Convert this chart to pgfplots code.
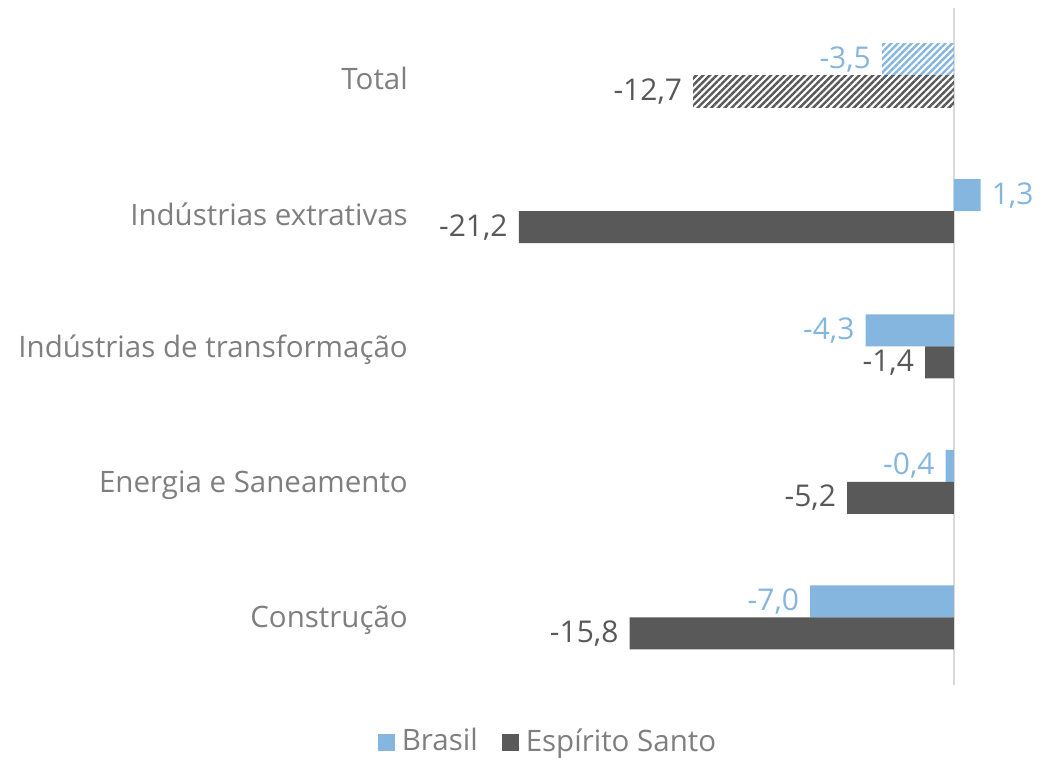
\documentclass[border=0pt]{standalone}
\usepackage{pgfplots}
\pgfplotsset{compat=1.18}
\usetikzlibrary{patterns.meta}
\usepackage{fontspec}
\setmainfont{Open Sans}
\definecolor{brasil}{RGB}{133,182,224}
\definecolor{esanto}{RGB}{89,89,89}
\definecolor{txtgray}{RGB}{127,127,127}
\definecolor{zeroline}{RGB}{217,217,217}

\begin{document}
\fontsize{29.5bp}{35bp}\selectfont
\begin{tikzpicture}[x=1bp,y=1bp]
\path[use as bounding box] (-410,-73) rectangle (631,685);
\begin{axis}[
    at={(0,0)}, anchor=south west,
    scale only axis,
    width=626bp, height=677bp,
    xbar, bar width=32bp,
    xmin=-26.5, xmax=4,
    ymin=-0.5, ymax=4.5,
    axis line style={draw=none},
    xtick=\empty,
    ytick={0,1,2,3,4},
    yticklabels={Construção, Energia e Saneamento, Indústrias de transformação, Indústrias extrativas, Total},
    major tick length=0pt,
    yticklabel style={anchor=east, inner sep=0pt, xshift=-2bp, yshift=-3bp, text=txtgray, font=\fontsize{29.5bp}{35bp}\selectfont},
    clip=false,
    nodes near coords,
    nodes near coords align={horizontal},
    /pgf/number format/.cd, fixed, fixed zerofill, precision=1, use comma, assume math mode=true,
    /pgfplots/.cd,
    every node near coord/.append style={font=\fontsize{30bp}{35bp}\selectfont, inner sep=11bp},
    legend style={at={(0.2204,-0.0842)}, anchor=center, draw=none, fill=none,
        font=\fontsize{29.5bp}{35bp}\selectfont, text=txtgray,
        /tikz/every even column/.append style={column sep=22bp}},
    legend columns=2,
    legend cell align=left,
]
\draw[color=zeroline, line width=1.5bp] (axis cs:0,-0.5) -- (axis cs:0,4.5);

% Brasil
\addplot[forget plot, draw=none, fill=brasil, bar shift=16bp,
    every node near coord/.append style={text=brasil}] coordinates {
    (-7.0,0) (-0.4,1) (-4.3,2) (1.3,3)
};
\addplot[forget plot, draw=none, pattern={Lines[angle=45, distance=4.8bp, line width=2.4bp]}, pattern color=brasil, bar shift=16bp,
    every node near coord/.append style={text=brasil}] coordinates {
    (-3.5,4)
};
% Espirito Santo
\addplot[forget plot, draw=none, fill=esanto, bar shift=-16bp,
    every node near coord/.append style={text=esanto}] coordinates {
    (-15.8,0) (-5.2,1) (-1.4,2) (-21.2,3)
};
\addplot[forget plot, draw=none, pattern={Lines[angle=45, distance=4.8bp, line width=2.4bp]}, pattern color=esanto, bar shift=-16bp,
    every node near coord/.append style={text=esanto}] coordinates {
    (-12.7,4)
};

\addlegendimage{area legend, draw=none, fill=brasil,
    legend image code/.code={\fill[brasil] (0bp,-8.5bp) rectangle (17bp,8.5bp); \path (22bp,0bp);}}
\addlegendentry{Brasil}
\addlegendimage{area legend, draw=none, fill=esanto,
    legend image code/.code={\fill[esanto] (0bp,-8.5bp) rectangle (17bp,8.5bp); \path (22bp,0bp);}}
\addlegendentry{Espírito Santo}
\end{axis}
\end{tikzpicture}
\end{document}
